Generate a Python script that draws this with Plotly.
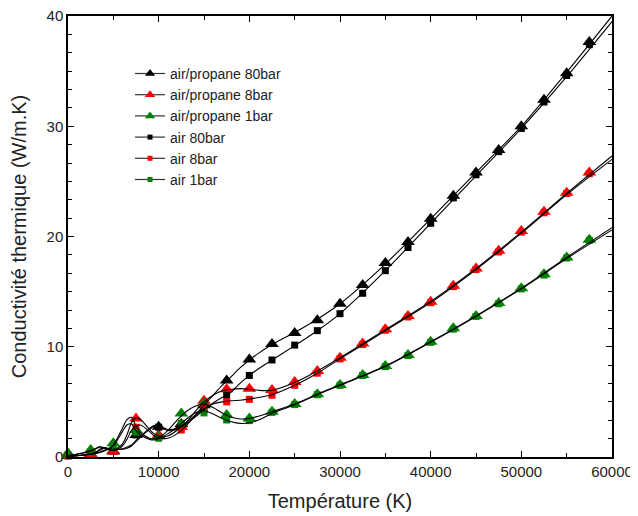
import plotly.graph_objects as go

# ---------------- data ----------------
T_marker = [0, 2500, 5000, 7500, 10000, 12500, 15000, 17500, 20000, 22500, 25000, 27500,
            30000, 32500, 35000, 37500, 40000, 42500, 45000, 47500, 50000, 52500, 55000, 57500]

ap80_pts = [0.1, 0.3, 0.5, 2.0, 2.75, 3.0, 4.7, 6.95, 8.85, 10.25, 11.25, 12.4,
            13.9, 15.6, 17.6, 19.5, 21.6, 23.7, 25.8, 27.85, 30.0, 32.4, 34.8, 37.65]
ap8_pts = [0.1, 0.25, 0.6, 3.5, 2.0, 2.75, 5.1, 6.15, 6.2, 6.08, 6.8, 7.8,
           9.0, 10.3, 11.58, 12.79, 14.09, 15.54, 17.1, 18.7, 20.5, 22.25, 23.97, 25.8]
ap1_pts = [0.35, 0.63, 1.24, 2.45, 1.85, 3.95, 4.85, 3.8, 3.5, 4.1, 4.8, 5.7,
           6.53, 7.44, 8.25, 9.25, 10.46, 11.67, 12.79, 13.97, 15.3, 16.57, 18.1, 19.7]
a80_pts = [0.1, 0.3, 0.5, 2.0, 2.7, 2.9, 4.3, 5.6, 7.4, 8.8, 10.15, 11.46,
           13.0, 14.85, 16.9, 19.0, 21.2, 23.5, 25.6, 27.7, 29.8, 32.2, 34.6, 37.4]
a8_pts = [0.1, 0.25, 0.5, 2.7, 1.8, 2.45, 4.5, 5.0, 5.23, 5.6, 6.5, 7.6,
          8.9, 10.2, 11.5, 12.7, 14.0, 15.45, 17.0, 18.6, 20.4, 22.15, 23.9, 25.7]
a1_pts = [0.2, 0.5, 1.0, 2.25, 1.7, 3.05, 4.0, 3.36, 3.3, 4.05, 4.75, 5.65,
          6.5, 7.4, 8.2, 9.2, 10.4, 11.6, 12.75, 13.9, 15.25, 16.5, 18.05, 19.65]

T_line = [0, 2000, 3000, 3500, 4000, 4500, 5000, 6000, 6500, 7000, 7500, 8000, 9000, 9500,
          10000, 11000, 12000, 13000, 14000, 15000, 16000, 17000, 18000, 19000, 20000, 21000,
          22500, 25000, 27500, 30000, 35000, 40000, 45000, 50000, 55000, 60000]

ap80_line = [0.05, 0.2, 0.35, 0.45, 0.6, 0.75, 0.7, 0.75, 0.9, 1.1, 1.5, 1.9, 2.6, 2.85,
             2.85, 2.5, 2.6, 3.1, 3.8, 4.7, 5.6, 6.5, 7.3, 8.1, 8.8, 9.4,
             10.2, 11.3, 12.5, 13.9, 17.5, 21.6, 25.8, 30.0, 34.9, 40.0]
a80_line = [0.05, 0.2, 0.3, 0.4, 0.55, 0.7, 0.7, 0.7, 0.8, 1.0, 1.4, 1.8, 2.5, 2.8,
            2.8, 2.4, 2.5, 3.0, 3.6, 4.3, 4.9, 5.4, 5.9, 6.7, 7.4, 8.0,
            8.8, 10.1, 11.45, 13.0, 16.9, 21.2, 25.5, 29.8, 34.5, 39.5]
ap8_line = [0.05, 0.2, 0.4, 0.7, 0.85, 0.7, 0.6, 1.2, 2.0, 3.1, 3.55, 3.4, 2.5, 2.1,
            1.9, 1.9, 2.4, 3.1, 4.1, 5.0, 5.6, 6.0, 6.15, 6.2, 6.15, 6.05,
            6.05, 6.75, 7.8, 9.0, 11.55, 14.1, 17.1, 20.4, 23.9, 27.3]
a8_line = [0.05, 0.2, 0.35, 0.6, 0.8, 0.65, 0.55, 1.0, 1.6, 2.4, 2.8, 2.9, 2.3, 1.9,
           1.75, 1.7, 2.1, 2.8, 3.7, 4.4, 4.8, 5.0, 5.1, 5.15, 5.25, 5.4,
           5.65, 6.5, 7.6, 8.9, 11.45, 14.0, 17.0, 20.3, 23.8, 27.0]
ap1_line = [0.1, 0.45, 0.75, 0.95, 0.85, 0.8, 1.1, 2.6, 3.4, 3.6, 2.8, 2.2, 1.7, 1.65,
            1.75, 2.4, 3.3, 4.1, 4.6, 4.8, 4.5, 4.0, 3.6, 3.45, 3.5, 3.7,
            4.1, 4.8, 5.7, 6.55, 8.25, 10.45, 12.8, 15.3, 18.1, 20.8]
a1_line = [0.1, 0.4, 0.7, 0.9, 0.8, 0.75, 1.0, 2.3, 2.9, 3.0, 2.4, 2.0, 1.6, 1.55,
           1.65, 2.1, 2.7, 3.4, 4.0, 4.2, 3.9, 3.5, 3.2, 3.05, 3.1, 3.35,
           3.95, 4.75, 5.65, 6.5, 8.2, 10.4, 12.75, 15.25, 18.0, 20.6]

series_names = ["air/propane 80bar", "air/propane 8bar", "air/propane 1bar",
                "air 80bar", "air 8bar", "air 1bar"]
series_pts = [ap80_pts, ap8_pts, ap1_pts, a80_pts, a8_pts, a1_pts]
series_lines = [ap80_line, ap8_line, ap1_line, a80_line, a8_line, a1_line]
series_colors = ["#000000", "#ff0000", "#008000", "#000000", "#ff0000", "#008000"]
series_symbols = ["triangle-up", "triangle-up", "triangle-up", "square", "square", "square"]
series_sizes = [12, 12, 12, 7, 7, 7]
legend_sizes = [9, 9, 9, 5, 5, 5]

FONT = "Arial, Liberation Sans, sans-serif"

fig = go.Figure()

# markers (drawn under the curves)
for name, pts, col, sym, sz in zip(series_names, series_pts, series_colors,
                                   series_symbols, series_sizes):
    fig.add_trace(go.Scatter(x=T_marker, y=pts, mode="markers", showlegend=False,
                             marker=dict(symbol=sym, size=sz, color=col, line=dict(width=0)),
                             cliponaxis=False))

# smooth curves
for ln in series_lines:
    fig.add_trace(go.Scatter(x=T_line, y=ln, mode="lines", showlegend=False,
                             line=dict(color="black", width=1.1, shape="spline", smoothing=0.8)))

# legend entries
for name, col, sym, lsz in zip(series_names, series_colors, series_symbols, legend_sizes):
    fig.add_trace(go.Scatter(x=[None], y=[None], mode="lines+markers", name=name,
                             line=dict(color="#333333", width=1.2),
                             marker=dict(symbol=sym, size=lsz, color=col, line=dict(width=0))))

axis_common = dict(showline=True, linecolor="black", linewidth=1.5, mirror="ticks",
                   ticks="inside", ticklen=6, tickwidth=1.2, tickcolor="black",
                   showgrid=False, zeroline=False, automargin=False,
                   ticklabeloverflow="allow",
                   tickfont=dict(family=FONT, size=15, color="#222222"))

fig.update_xaxes(range=[0, 60000], dtick=10000, tick0=0, tickformat="d",
                 minor=dict(dtick=5000, ticks="inside", ticklen=4, tickcolor="black", showgrid=False),
                 title=dict(text="Température (K)", font=dict(family=FONT, size=20, color="#222222")),
                 **axis_common)
fig.update_yaxes(range=[0, 40], dtick=10, tick0=0, tickformat="d",
                 minor=dict(dtick=10 / 6, ticks="inside", ticklen=4, tickcolor="black", showgrid=False),
                 title=dict(text="Conductivité thermique (W/m.K)",
                            font=dict(family=FONT, size=20, color="#222222")),
                 **axis_common)

fig.update_layout(
    width=630, height=508,
    margin=dict(l=60, r=26, t=8, b=59),
    plot_bgcolor="white", paper_bgcolor="white",
    font=dict(family=FONT, color="#222222"),
    legend=dict(x=0.114, y=0.905, xanchor="left", yanchor="top",
                bgcolor="rgba(0,0,0,0)", borderwidth=0,
                font=dict(family=FONT, size=14, color="#222222"),
                tracegroupgap=0, itemwidth=30),
)

fig.write_html("out.html")
